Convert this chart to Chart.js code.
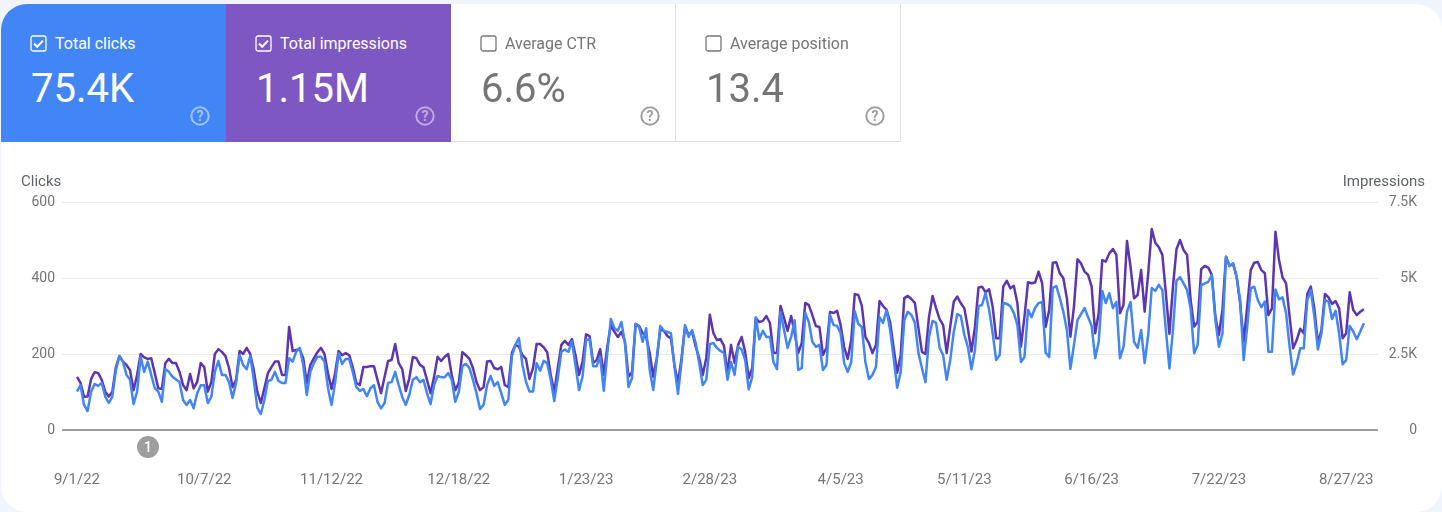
<!DOCTYPE html>
<html>
<head>
<meta charset="utf-8">
<title>Performance</title>
<script src="https://cdn.jsdelivr.net/npm/chart.js@4"></script>
<style>
    html, body { margin: 0; padding: 0; width: 1442px; height: 512px; overflow: hidden; background: #f1f4fc; font-family: Roboto, sans-serif; }
    #card { position: absolute; left: 1px; top: 4px; width: 1441px; height: 508px; background: #fff; border-radius: 26px; overflow: hidden; }
    #chart { position: absolute; left: 0; top: 0; }
    .tile { position: absolute; top: 4px; width: 225px; height: 138px; box-sizing: border-box; color: #757575; }
    .tile.off { border-right: 1px solid #e0e0e0; border-bottom: 1px solid #e0e0e0; }
    .tile .name { position: absolute; left: 29px; top: 31px; font-size: 16px; line-height: 18px; white-space: nowrap; display: flex; align-items: center; }
    .tile svg.box { width: 18px; height: 18px; margin-right: 7px; }
    .tile .num { position: absolute; left: 30px; top: 61px; font-size: 40px; line-height: 48px; white-space: nowrap; }
    .tile svg.help { position: absolute; left: 188px; top: 101px; width: 22px; height: 22px; }
    .axis-title { position: absolute; top: 173px; font-size: 15px; line-height: 16px; color: #5f6368; }
    #badge { position: absolute; left: 137px; top: 436px; width: 22px; height: 22px; border-radius: 50%; background: #9e9e9e; color: #fff; font-size: 14px; font-weight: 500; line-height: 22px; text-align: center; }
</style>
</head>
<body>
<div id="card"></div>
<canvas id="chart" width="1417" height="512"></canvas>
<div class="tile" style="left:1px;background:#4285f4;color:#fff;border-top-left-radius:26px">
    <div class="name"><svg class="box" viewBox="0 0 18 18"><rect x="1" y="1" width="15" height="15" rx="2" fill="none" stroke="#fff" stroke-width="1.3"/><path d="M4 8.5l3.2 3.2L13 5.6" fill="none" stroke="#fff" stroke-width="2"/></svg>Total clicks</div>
    <div class="num">75.4K</div>
    <svg class="help" viewBox="0 0 22 22"><circle cx="11" cy="11" r="8.7" fill="none" stroke="#fff" stroke-opacity=".5" stroke-width="2"/><text x="11" y="15.8" font-size="14" font-weight="700" text-anchor="middle" fill="#fff" fill-opacity=".5">?</text></svg>
</div>
<div class="tile" style="left:226px;background:#7e57c2;color:#fff">
    <div class="name"><svg class="box" viewBox="0 0 18 18"><rect x="1" y="1" width="15" height="15" rx="2" fill="none" stroke="#fff" stroke-width="1.3"/><path d="M4 8.5l3.2 3.2L13 5.6" fill="none" stroke="#fff" stroke-width="2"/></svg>Total impressions</div>
    <div class="num">1.15M</div>
    <svg class="help" viewBox="0 0 22 22"><circle cx="11" cy="11" r="8.7" fill="none" stroke="#fff" stroke-opacity=".5" stroke-width="2"/><text x="11" y="15.8" font-size="14" font-weight="700" text-anchor="middle" fill="#fff" fill-opacity=".5">?</text></svg>
</div>
<div class="tile off" style="left:451px">
    <div class="name"><svg class="box" viewBox="0 0 18 18"><rect x="1" y="1" width="15" height="15" rx="2" fill="none" stroke="#757575" stroke-width="1.3"/></svg>Average CTR</div>
    <div class="num">6.6%</div>
    <svg class="help" viewBox="0 0 22 22"><circle cx="11" cy="11" r="8.7" fill="none" stroke="#9e9e9e" stroke-width="2"/><text x="11" y="15.8" font-size="14" font-weight="700" text-anchor="middle" fill="#9e9e9e">?</text></svg>
</div>
<div class="tile off" style="left:676px">
    <div class="name"><svg class="box" viewBox="0 0 18 18"><rect x="1" y="1" width="15" height="15" rx="2" fill="none" stroke="#757575" stroke-width="1.3"/></svg>Average position</div>
    <div class="num">13.4</div>
    <svg class="help" viewBox="0 0 22 22"><circle cx="11" cy="11" r="8.7" fill="none" stroke="#9e9e9e" stroke-width="2"/><text x="11" y="15.8" font-size="14" font-weight="700" text-anchor="middle" fill="#9e9e9e">?</text></svg>
</div>
<div class="axis-title" style="left:21px">Clicks</div>
<div class="axis-title" style="right:17px">Impressions</div>
<div id="badge">1</div>
<script>
// Daily values, 9/1/22 to 8/31/23
const clicks = [
    101,118,66,50,101,121,116,124,88,71,
    88,158,195,180,145,133,68,101,193,153,
    180,145,110,101,74,160,153,140,133,126,
    79,66,79,57,97,118,118,71,87,153,
    182,145,145,126,84,124,197,171,160,195,
    132,58,42,79,129,132,153,129,124,124,
    189,180,206,216,171,92,153,176,193,193,
    180,110,66,124,202,174,187,187,153,113,
    103,108,89,110,118,74,57,71,124,126,
    153,118,87,66,92,132,139,126,132,97,
    68,118,142,139,139,150,132,74,100,168,
    174,163,132,97,55,66,118,142,116,126,
    97,66,79,193,224,242,171,127,101,101,
    176,156,182,176,132,76,137,206,212,206,
    233,171,105,140,237,239,168,168,193,103,
    202,292,268,261,284,229,113,137,279,271,
    232,268,158,105,184,274,261,258,255,166,
    95,179,276,245,263,229,176,118,132,226,
    229,216,208,203,132,179,145,219,212,
    184,107,140,297,239,261,245,245,179,160,
    311,263,216,245,289,158,163,308,284,232,
    219,224,158,171,303,276,274,255,176,153,
    179,313,279,271,179,134,145,166,297,282,
    316,263,189,111,153,289,311,303,282,203,
    163,126,245,287,282,216,197,132,184,258,
    305,300,250,218,160,211,326,329,360,316,
    255,184,197,334,332,326,308,276,179,192,
    316,297,321,334,337,203,192,374,379,347,
    311,263,161,224,289,305,321,297,274,189,
    232,366,334,360,321,337,189,218,311,337,
    232,216,263,176,250,374,366,382,368,263,
    162,263,393,402,386,368,320,202,224,381,
    386,390,408,290,219,254,456,432,438,404,342,
    184,272,373,377,342,323,338,206,206,370,
    344,349,307,219,146,175,215,215,342,368,
    298,212,254,342,338,292,314,254,173,184,
    274,259,239,259,281
];
const impressions = [
    1750,1550,1090,1100,1680,1900,1870,1650,1260,1100,
    1260,2070,2430,2250,2140,1970,1310,1810,2500,2390,
    2340,2360,1870,1370,1350,2200,2340,2200,2200,1910,
    1480,1310,1840,1370,1580,2200,2070,1260,1580,2500,
    2660,2570,2430,2040,1410,1650,2600,2500,2700,2500,
    1970,1260,890,1370,1870,2070,2250,2250,1810,1810,
    3390,2600,2630,2660,2360,1550,2140,2360,2560,2700,
    2500,1870,1350,1870,2600,2460,2530,2460,2070,1550,
    1480,2070,2070,2100,2100,1650,1210,1740,2270,2300,
    2830,2200,2000,1280,1700,2400,2360,2140,2070,1650,
    1210,1740,2410,2270,2410,2500,1810,1310,1550,2560,
    2460,2340,2040,1580,1310,1410,2250,2270,2040,2000,
    2070,1480,1410,2530,2800,2740,2460,2340,1680,2040,
    2830,2830,2720,2560,1810,1250,2040,2800,2930,2800,
    2990,2460,1810,2250,3150,3090,2200,2300,2660,1810,
    2740,3450,3230,3060,3230,2910,1750,1910,3490,3420,
    3190,3050,2530,1750,2360,3320,3260,3090,3020,2140,
    1540,2370,3390,3130,3230,2740,2370,1810,2370,3790,
    3190,2960,2990,2770,1870,2800,2210,2800,3060,
    2570,1710,2040,3680,3550,3590,3750,3520,2530,2540,
    4080,3680,3260,3750,3190,2530,2860,4180,4110,3780,
    3420,3390,2470,2700,3880,3850,3920,3450,2730,2340,
    2960,4470,4440,4080,3060,2860,2530,2800,4240,4080,
    3950,3550,2700,1880,2470,4340,4410,4310,4180,3360,
    2570,2500,3720,4410,4010,3650,3450,2530,3400,4220,
    4390,4170,4000,3340,2580,3400,4690,4715,4530,4630,
    4060,3015,3015,4715,4910,4660,4740,4170,2740,3730,
    4860,4825,4850,5210,4825,3400,3950,5505,5515,5155,
    4990,4330,3070,4060,5615,5480,5210,5100,4715,3180,
    3840,5590,5540,5810,5955,5760,3840,4110,6220,5370,
    4330,4440,5260,3890,5150,6610,6160,6010,5760,4495,
    3160,4715,5945,6250,5920,5760,4275,3400,3560,5295,
    5395,5340,5100,3730,3125,3950,5700,5395,5480,5045,4165,
    2900,4060,5260,5505,5525,5260,5155,3780,4000,6525,
    5590,5020,4825,3730,2685,2960,3330,3180,4475,4715,
    4000,2850,3290,4475,4365,4145,4245,4000,3015,3180,
    4530,3950,3780,3890,3970
];
const dateTickDays = [0, 36, 72, 108, 144, 179, 216, 251, 287, 323, 359];
const dateTickLabels = ['9/1/22', '10/7/22', '11/12/22', '12/18/22', '1/23/23', '2/28/23', '4/5/23', '5/11/23', '6/16/23', '7/22/23', '8/27/23'];
const clickTicks = [0, 200, 400, 600];
const impressionTicks = [0, 2500, 5000, 7500];
const impressionTickLabels = ['0', '2.5K', '5K', '7.5K'];

const tickColor = '#757575';

new Chart(document.getElementById('chart'), {
    type: 'line',
    data: {
        datasets: [
            { label: 'Clicks', yAxisID: 'y', data: clicks.map((v, i) => ({ x: i, y: v })), borderColor: '#4285f4' },
            { label: 'Impressions', yAxisID: 'y1', data: impressions.map((v, i) => ({ x: i, y: v })), borderColor: '#5e35b1' }
        ]
    },
    options: {
        responsive: false,
        animation: false,
        parsing: false,
        normalized: true,
        layout: { padding: { top: 202 } },
        elements: { point: { radius: 0 }, line: { borderWidth: 2.5, tension: 0, borderJoinStyle: 'round' } },
        plugins: { legend: { display: false }, tooltip: { enabled: false } },
        scales: {
            x: {
                type: 'linear',
                min: -4.24,
                max: 368,
                grid: { display: false },
                border: { display: false },
                afterBuildTicks: scale => { scale.ticks = dateTickDays.map(d => ({ value: d })); },
                afterFit: scale => { scale.height = 82; },
                ticks: {
                    autoSkip: false,
                    maxRotation: 0,
                    padding: 33,
                    font: { family: 'Roboto', size: 15 },
                    color: tickColor,
                    callback: value => dateTickLabels[dateTickDays.indexOf(value)]
                }
            },
            y: {
                position: 'left',
                min: 0,
                max: 600,
                border: { display: false },
                grid: {
                    drawTicks: false,
                    color: c => c.tick.value === 0 ? '#9e9e9e' : '#ebebeb',
                    lineWidth: c => c.tick.value === 0 ? 2 : 1
                },
                afterBuildTicks: scale => { scale.ticks = clickTicks.map(v => ({ value: v })); },
                afterFit: scale => { scale.width = 62; },
                ticks: { padding: 7, font: { family: 'Roboto', size: 14 }, color: tickColor }
            },
            y1: {
                position: 'right',
                min: 0,
                max: 7500,
                border: { display: false },
                grid: { display: false, drawTicks: false },
                afterBuildTicks: scale => { scale.ticks = impressionTicks.map(v => ({ value: v })); },
                afterFit: scale => { scale.width = 39; },
                ticks: {
                    padding: 8,
                    crossAlign: 'far',
                    font: { family: 'Roboto', size: 14 },
                    color: tickColor,
                    callback: value => impressionTickLabels[impressionTicks.indexOf(value)]
                }
            }
        }
    }
});
</script>
</body>
</html>
